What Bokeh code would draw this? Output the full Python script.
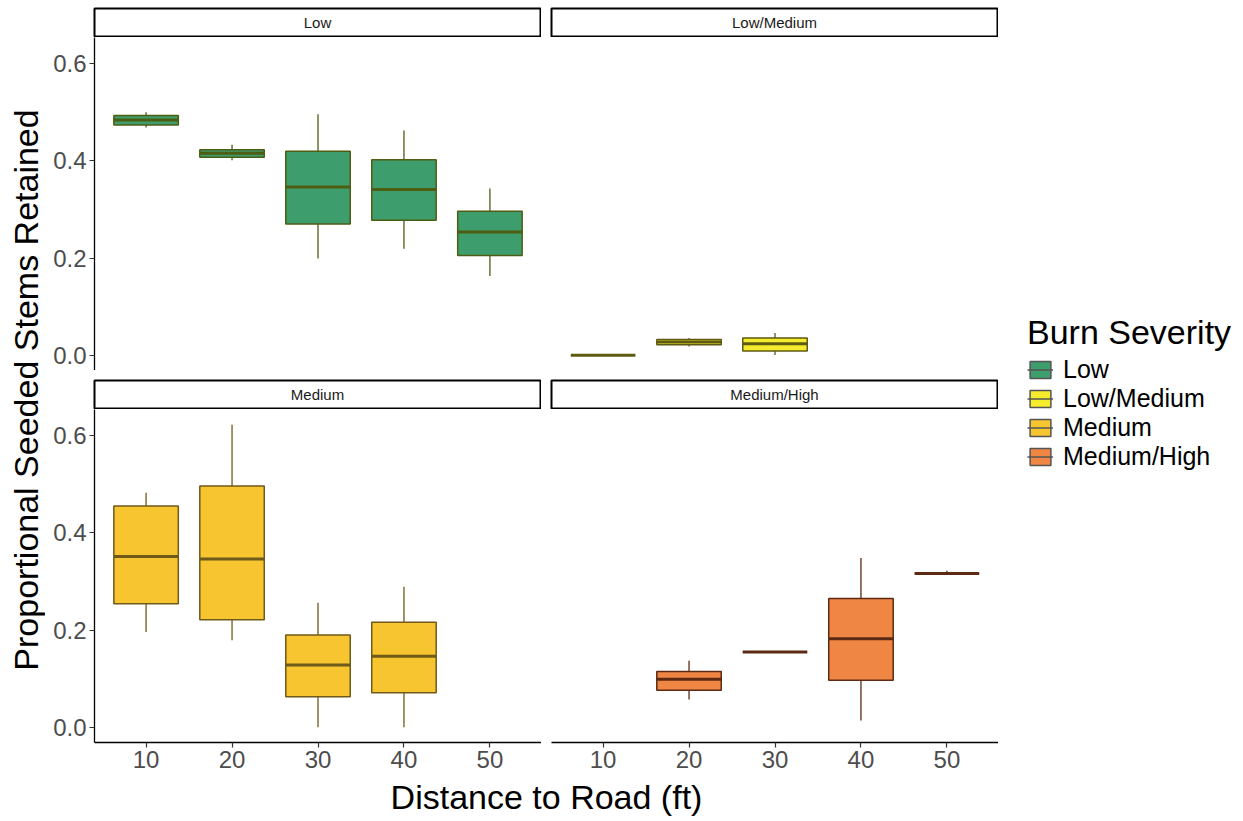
import math
from bokeh.plotting import figure
from bokeh.layouts import row, column
from bokeh.models import (ColumnDataSource, FactorRange, Range1d, FixedTicker,
                          PrintfTickFormatter, Legend, LegendItem)
from bokeh.transform import dodge
from bokeh.core.properties import value
from bokeh.embed import file_html
from bokeh.resources import INLINE

FONT = "Liberation Sans"

# ---------------- data ----------------
distances = ["10", "20", "30", "40", "50"]
severities = ["Low", "Low/Medium", "Medium", "Medium/High"]
y_ticks = [0.0, 0.2, 0.4, 0.6]

low_x = ["10", "20", "30", "40", "50"]
low_lo = [0.468, 0.401, 0.199, 0.219, 0.163]
low_q1 = [0.4735, 0.4072, 0.270, 0.2774, 0.205]
low_med = [0.4838, 0.4154, 0.3457, 0.341, 0.2535]
low_q3 = [0.4927, 0.4223, 0.4195, 0.4018, 0.2959]
low_hi = [0.4995, 0.4325, 0.4954, 0.4619, 0.343]

lowmed_x = ["10", "20", "30"]
lowmed_lo = [0.0, 0.0184, 0.001]
lowmed_q1 = [0.0, 0.0219, 0.0089]
lowmed_med = [0.0, 0.0273, 0.0239]
lowmed_q3 = [0.0, 0.0328, 0.0355]
lowmed_hi = [0.0, 0.0355, 0.0458]

med_x = ["10", "20", "30", "40"]
med_lo = [0.196, 0.179, 0.0, 0.0]
med_q1 = [0.254, 0.221, 0.063, 0.071]
med_med = [0.351, 0.346, 0.128, 0.146]
med_q3 = [0.455, 0.496, 0.190, 0.216]
med_hi = [0.482, 0.622, 0.256, 0.289]

mh_x = ["20", "30", "40", "50"]
mh_lo = [0.057, 0.155, 0.014, 0.316]
mh_q1 = [0.076, 0.155, 0.097, 0.316]
mh_med = [0.099, 0.155, 0.182, 0.316]
mh_q3 = [0.115, 0.155, 0.265, 0.316]
mh_hi = [0.137, 0.155, 0.348, 0.322]

fill_colors = ["#3E9D6C", "#F5EC2D", "#F6C530", "#F08644"]
line_colors = ["#4D5E12", "#5E5A12", "#6F5A1A", "#5C2A12"]

panel_data = {
    "Low": dict(x=low_x, lo=low_lo, q1=low_q1, med=low_med, q3=low_q3, hi=low_hi),
    "Low/Medium": dict(x=lowmed_x, lo=lowmed_lo, q1=lowmed_q1, med=lowmed_med, q3=lowmed_q3, hi=lowmed_hi),
    "Medium": dict(x=med_x, lo=med_lo, q1=med_q1, med=med_med, q3=med_q3, hi=med_hi),
    "Medium/High": dict(x=mh_x, lo=mh_lo, q1=mh_q1, med=mh_med, q3=mh_q3, hi=mh_hi),
}

all_lo = min(min(d["lo"]) for d in panel_data.values())
all_hi = max(max(d["hi"]) for d in panel_data.values())
pad = 0.05 * (all_hi - all_lo)
Y0, Y1 = all_lo - pad, all_hi + pad

# ---------------- layout constants ----------------
TITLE_W = 45
LEFT_B = 49
FRAME_W = 447
GAP = 10
LEFT_W = LEFT_B + FRAME_W
RIGHT_W = GAP + FRAME_W
MAIN_W = LEFT_W + RIGHT_W
LEG_W = 1243 - TITLE_W - MAIN_W
FRAME_H = 333
XAX_B = 36
TOTAL_H = 821
TITLE_SIZE = "34px"


def base_fig(w, h, left, right, top, bottom, **kw):
    f = figure(width=w, height=h, output_backend="svg", toolbar_location=None,
               min_border_left=left, min_border_right=right,
               min_border_top=top, min_border_bottom=bottom, **kw)
    f.background_fill_color = "white"
    f.border_fill_color = "white"
    f.outline_line_color = None
    f.grid.visible = False
    return f


def make_strip(label, w, left, top, h):
    s = base_fig(w, h, left, 1, top, h - top - 28,
                 x_range=Range1d(0, 1), y_range=Range1d(0, 1),
                 x_axis_location=None, y_axis_location=None)
    s.outline_line_color = "black"
    s.outline_line_width = 2
    s.text(x=[0.5], y=[0.5], text=[label], text_align="center", text_baseline="middle",
           text_font=value(FONT), text_font_size="15px", text_color="#1A1A1A")
    return s


def make_panel(sev, idx, show_y, show_x):
    w = LEFT_W if show_y else RIGHT_W
    left = LEFT_B if show_y else GAP
    bottom = XAX_B if show_x else 0
    p = base_fig(w, FRAME_H + bottom, left, 0, 0, bottom,
                 x_range=FactorRange(factors=distances, range_padding=0.04),
                 y_range=Range1d(Y0, Y1),
                 x_axis_location="below" if show_x else None,
                 y_axis_location="left" if show_y else None)
    src = ColumnDataSource(panel_data[sev])
    fc, lc = fill_colors[idx], line_colors[idx]
    p.segment(x0="x", y0="lo", x1="x", y1="hi", source=src, line_color=lc, line_width=1.3)
    p.vbar(x="x", width=0.75, bottom="q1", top="q3", source=src,
           fill_color=fc, line_color=lc, line_width=1.5)
    p.segment(x0=dodge("x", -0.375, range=p.x_range), y0="med",
              x1=dodge("x", 0.375, range=p.x_range), y1="med",
              source=src, line_color=lc, line_width=3)
    for ax in p.axis:
        ax.axis_line_color = "black"
        ax.axis_line_width = 1.3
        ax.major_tick_line_color = "#333333"
        ax.major_tick_line_width = 1.2
        ax.major_tick_out = 5
        ax.major_tick_in = 0
        ax.minor_tick_line_color = None
        ax.major_label_text_font = FONT
        ax.major_label_text_font_size = "24px"
        ax.major_label_text_color = "#4D4D4D"
    if show_y:
        p.yaxis.ticker = FixedTicker(ticks=y_ticks)
        p.yaxis.formatter = PrintfTickFormatter(format="%.1f")
        p.yaxis.major_label_standoff = 3
    if show_x:
        p.xaxis.major_label_standoff = 3
    return p


# strips and panels
sTL = make_strip(severities[0], LEFT_W, LEFT_B, 8, 37)
sTR = make_strip(severities[1], RIGHT_W, GAP, 8, 37)
sBL = make_strip(severities[2], LEFT_W, LEFT_B, 10, 39)
sBR = make_strip(severities[3], RIGHT_W, GAP, 10, 39)

pTL = make_panel(severities[0], 0, True, False)
pTR = make_panel(severities[1], 1, False, False)
pBL = make_panel(severities[2], 2, True, True)
pBR = make_panel(severities[3], 3, False, True)

used_h = 37 + FRAME_H + 39 + FRAME_H + XAX_B
XT_H = TOTAL_H - used_h

# x title
xt = base_fig(MAIN_W, XT_H, 0, 0, 0, 0, x_range=Range1d(0, MAIN_W), y_range=Range1d(0, XT_H),
              x_axis_location=None, y_axis_location=None)
xt.text(x=[(94 + 998) / 2 - TITLE_W], y=[24.5], text=["Distance to Road (ft)"],
        text_align="center", text_baseline="middle",
        text_font=value(FONT), text_font_size=TITLE_SIZE, text_color="black")

# y title
yt = base_fig(TITLE_W, TOTAL_H, 0, 0, 0, 0, x_range=Range1d(0, TITLE_W), y_range=Range1d(0, TOTAL_H),
              x_axis_location=None, y_axis_location=None)
yt.text(x=[25], y=[TOTAL_H - (37 + 742) / 2], text=["Proportional Seeded Stems Retained"],
        angle=math.pi / 2, text_align="center", text_baseline="middle",
        text_font=value(FONT), text_font_size=TITLE_SIZE, text_color="black")

# legend
LEG_TOP = 309
LEG_H = 162
lg = base_fig(LEG_W, TOTAL_H, 0, 0, 0, 0, x_range=Range1d(0, 1), y_range=Range1d(0, 1),
              x_axis_location=None, y_axis_location=None)
items = []
for i, sev in enumerate(severities):
    d = panel_data[sev]
    rb = lg.vbar(x=[0.5], top=[d["q3"][0]], bottom=[d["q1"][0]], width=0.5,
                 fill_color=fill_colors[i], line_color="#555555", line_width=1.5, visible=False)
    rm = lg.segment(x0=[0.25], y0=[d["med"][0]], x1=[0.75], y1=[d["med"][0]],
                    line_color="#555555", line_width=1.5, visible=False)
    items.append(LegendItem(label=sev, renderers=[rb, rm]))
legend = Legend(items=items, location=(29, TOTAL_H - LEG_TOP - LEG_H), title="Burn Severity",
                title_text_font=FONT, title_text_font_size=TITLE_SIZE, title_text_font_style="normal",
                title_text_color="black", title_standoff=3,
                label_text_font=FONT, label_text_font_size="25px", label_text_color="black",
                glyph_width=26, glyph_height=21, label_standoff=10, spacing=0,
                padding=0, margin=0, border_line_color=None, background_fill_alpha=0,
                inactive_fill_alpha=0)
lg.add_layout(legend, "center")

main = column(row(sTL, sTR), row(pTL, pTR), row(sBL, sBR), row(pBL, pBR), xt)
layout = row(yt, main, lg)

open("out.html", "w").write(file_html(layout, INLINE))
